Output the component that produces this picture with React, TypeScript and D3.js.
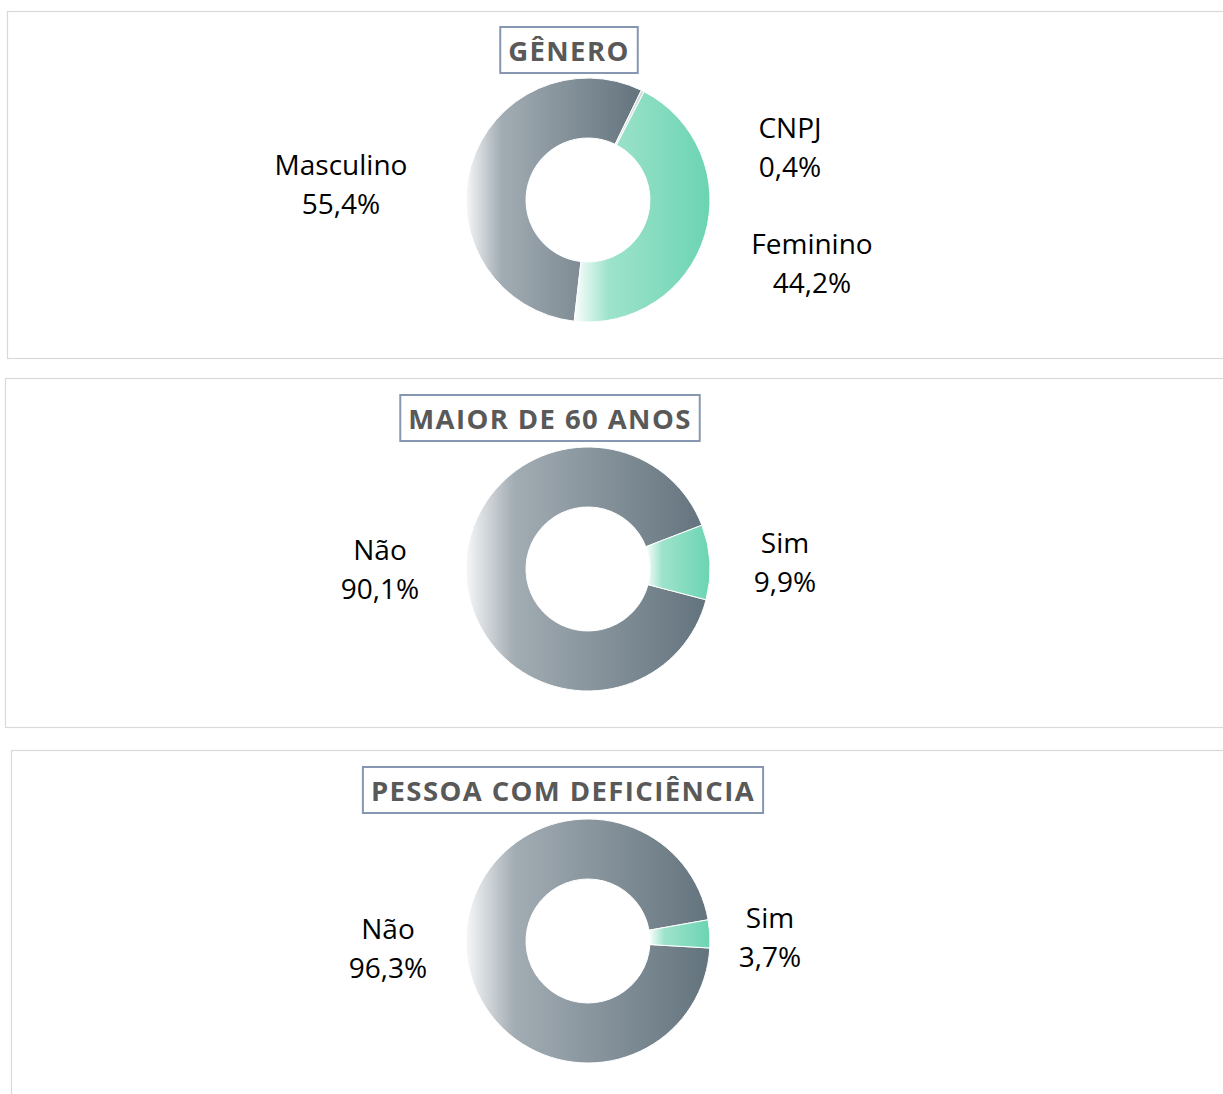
import React, { useEffect, useRef } from 'react';
import * as d3 from 'd3';

// data
const genderLabels = ['Masculino', 'CNPJ', 'Feminino'];
const genderValues = [55.4, 0.4, 44.2];

const age60Labels = ['Não', 'Sim'];
const age60Values = [90.1, 9.9];

const pcdLabels = ['Não', 'Sim'];
const pcdValues = [96.3, 3.7];

const panelTitles = ['GÊNERO', 'MAIOR DE 60 ANOS', 'PESSOA COM DEFICIÊNCIA'];

interface PanelLayout {
    x: number;
    y: number;
    h: number;
    cx: number;
    cy: number;
    titleCx: number;
    titleY: number;
    startDeg: number;
    fills: string[];
    labelOffsets: [number, number][];
}

const layouts: PanelLayout[] = [
    {
        x: 7, y: 11, h: 347, cx: 588, cy: 200, titleCx: 569, titleY: 27, startDeg: 186.5,
        fills: ['gray', 'light', 'green'],
        labelOffsets: [[-247, -35], [202, -72], [224, 44]],
    },
    {
        x: 5, y: 378, h: 349, cx: 588, cy: 569, titleCx: 550, titleY: 395, startDeg: 104.6,
        fills: ['gray', 'green'],
        labelOffsets: [[-208, -19], [197, -26]],
    },
    {
        x: 11, y: 750, h: 400, cx: 588, cy: 941, titleCx: 563, titleY: 767, startDeg: 93.3,
        fills: ['gray', 'green'],
        labelOffsets: [[-200, -12], [182, -23]],
    },
];

const panelData = [
    { labels: genderLabels, values: genderValues },
    { labels: age60Labels, values: age60Values },
    { labels: pcdLabels, values: pcdValues },
];

const fmt = (v: number) => v.toFixed(1).replace('.', ',') + '%';

const App: React.FC = () => {
    const svgRef = useRef<SVGSVGElement | null>(null);

    useEffect(() => {
        const svg = d3.select(svgRef.current);
        svg.selectAll('*').remove();

        const defs = svg.append('defs');
        const addGrad = (id: string, stops: [number, string][]) => {
            const g = defs.append('linearGradient').attr('id', id)
                .attr('x1', 0).attr('x2', 1).attr('y1', 0).attr('y2', 0);
            stops.forEach(([o, c]) => g.append('stop').attr('offset', o).attr('stop-color', c));
        };
        addGrad('grad-gray', [[0, '#f6f7f8'], [0.2, '#a2acb3'], [1, '#63737d']]);
        addGrad('grad-green', [[0, '#fbfefd'], [0.25, '#9ee3cc'], [1, '#6bd4b2']]);
        addGrad('grad-light', [[0, '#e4e9e8'], [1, '#cfd8d6']]);

        const outerR = 122;
        const innerR = 62;
        const arc = d3.arc<d3.PieArcDatum<number>>().innerRadius(innerR).outerRadius(outerR);

        layouts.forEach((L, i) => {
            const { labels, values } = panelData[i];

            // panel frame (runs off the right edge like the original)
            svg.append('rect')
                .attr('x', L.x + 0.5).attr('y', L.y + 0.5)
                .attr('width', 1300).attr('height', L.h)
                .attr('fill', '#fff').attr('stroke', '#d9d9d9').attr('stroke-width', 1.2);

            // title in a box
            const tg = svg.append('g');
            const tText = tg.append('text')
                .attr('x', L.titleCx).attr('y', L.titleY + 34)
                .attr('text-anchor', 'middle')
                .attr('font-family', "'Open Sans', sans-serif")
                .attr('font-weight', 700).attr('font-size', 27.5)
                .attr('letter-spacing', 1.4)
                .attr('fill', '#595959')
                .text(panelTitles[i]);
            const bb = (tText.node() as SVGTextElement).getBBox();
            tg.insert('rect', 'text')
                .attr('x', bb.x - 8).attr('y', L.titleY)
                .attr('width', bb.width + 16).attr('height', 46)
                .attr('fill', '#fff').attr('stroke', '#8797b1').attr('stroke-width', 2);

            const start = (L.startDeg * Math.PI) / 180;
            const pie = d3.pie<number>().sort(null).value(d => d)
                .startAngle(start).endAngle(start + 2 * Math.PI);
            const arcs = pie(values);

            const g = svg.append('g').attr('transform', `translate(${L.cx},${L.cy})`);
            g.selectAll('path')
                .data(arcs)
                .join('path')
                .attr('d', arc)
                .attr('fill', (_, j) => `url(#grad-${L.fills[j]})`)
                .attr('stroke', '#fff').attr('stroke-width', 1);

            // two-line labels
            const lab = g.selectAll('text.lab')
                .data(arcs)
                .join('text')
                .attr('class', 'lab')
                .attr('text-anchor', 'middle')
                .attr('font-family', "'Open Sans', sans-serif")
                .attr('font-size', 28)
                .attr('fill', '#000');
            lab.append('tspan')
                .attr('x', (_, j) => L.labelOffsets[j][0])
                .attr('y', (_, j) => L.labelOffsets[j][1])
                .attr('dy', '0.35em')
                .text((_, j) => labels[j]);
            lab.append('tspan')
                .attr('x', (_, j) => L.labelOffsets[j][0])
                .attr('y', (_, j) => L.labelOffsets[j][1] + 39)
                .attr('dy', '0.35em')
                .text(d => fmt(d.data));
        });
    }, []);

    return (
        <svg
            ref={svgRef}
            width={1223}
            height={1094}
            style={{ position: 'absolute', left: 0, top: 0, background: '#fff' }}
        />
    );
};

export default App;
